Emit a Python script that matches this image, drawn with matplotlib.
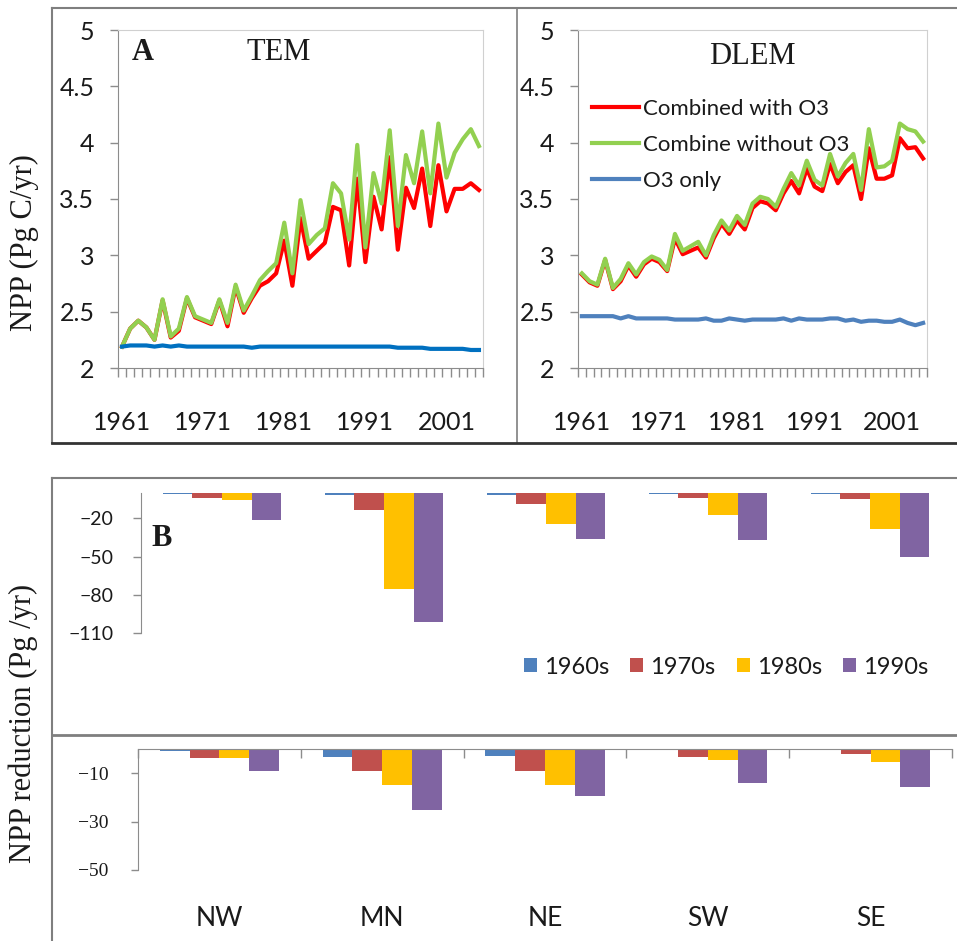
import numpy as np
import matplotlib
matplotlib.use('Agg')
import matplotlib.pyplot as plt
from matplotlib import font_manager
from matplotlib.lines import Line2D

# ---- data ----
years = list(range(1961, 2006))

tem_with_o3 = [2.19, 2.35, 2.42, 2.36, 2.25, 2.60, 2.27, 2.33, 2.62, 2.45,
               2.42, 2.39, 2.60, 2.37, 2.72, 2.49, 2.62, 2.73, 2.77, 2.84,
               3.13, 2.73, 3.33, 2.97, 3.04, 3.11, 3.43, 3.40, 2.91, 3.68,
               2.94, 3.52, 3.23, 3.87, 3.05, 3.60, 3.42, 3.77, 3.26, 3.80,
               3.39, 3.59, 3.59, 3.64, 3.58]
tem_without_o3 = [2.19, 2.35, 2.42, 2.36, 2.25, 2.61, 2.28, 2.35, 2.63, 2.46,
                  2.43, 2.40, 2.61, 2.40, 2.74, 2.51, 2.64, 2.78, 2.86, 2.93,
                  3.29, 2.84, 3.49, 3.10, 3.18, 3.24, 3.64, 3.55, 3.14, 3.98,
                  3.07, 3.73, 3.46, 4.11, 3.26, 3.89, 3.64, 4.10, 3.55, 4.17,
                  3.69, 3.91, 4.03, 4.12, 3.97]
tem_o3_only = [2.19, 2.20, 2.20, 2.20, 2.19, 2.20, 2.19, 2.20, 2.19, 2.19,
               2.19, 2.19, 2.19, 2.19, 2.19, 2.19, 2.18, 2.19, 2.19, 2.19,
               2.19, 2.19, 2.19, 2.19, 2.19, 2.19, 2.19, 2.19, 2.19, 2.19,
               2.19, 2.19, 2.19, 2.19, 2.18, 2.18, 2.18, 2.18, 2.17, 2.17,
               2.17, 2.17, 2.17, 2.16, 2.16]

dlem_with_o3 = [2.83, 2.76, 2.73, 2.96, 2.70, 2.77, 2.91, 2.81, 2.92, 2.97,
                2.94, 2.86, 3.15, 3.01, 3.04, 3.07, 2.98, 3.15, 3.28, 3.19,
                3.31, 3.23, 3.42, 3.48, 3.46, 3.40, 3.55, 3.66, 3.55, 3.77,
                3.61, 3.57, 3.81, 3.64, 3.74, 3.80, 3.50, 3.95, 3.68, 3.68,
                3.71, 4.04, 3.95, 3.96, 3.86]
dlem_without_o3 = [2.84, 2.77, 2.74, 2.97, 2.71, 2.79, 2.93, 2.83, 2.94, 2.99,
                   2.96, 2.87, 3.19, 3.04, 3.08, 3.12, 3.00, 3.18, 3.31, 3.22,
                   3.35, 3.27, 3.46, 3.52, 3.50, 3.43, 3.59, 3.73, 3.62, 3.84,
                   3.67, 3.62, 3.90, 3.70, 3.82, 3.90, 3.58, 4.12, 3.78, 3.79,
                   3.84, 4.17, 4.12, 4.10, 4.01]
dlem_o3_only = [2.46, 2.46, 2.46, 2.46, 2.46, 2.44, 2.46, 2.44, 2.44, 2.44,
                2.44, 2.44, 2.43, 2.43, 2.43, 2.43, 2.44, 2.42, 2.42, 2.44,
                2.43, 2.42, 2.43, 2.43, 2.43, 2.43, 2.44, 2.42, 2.44, 2.43,
                2.43, 2.43, 2.44, 2.44, 2.42, 2.43, 2.41, 2.42, 2.42, 2.41,
                2.41, 2.43, 2.40, 2.38, 2.40]

regions = ['NW', 'MN', 'NE', 'SW', 'SE']
decades = ['1960s', '1970s', '1980s', '1990s']

upper_1960s = [-0.4, -1.6, -1.6, -0.5, -0.5]
upper_1970s = [-3.7, -13.1, -8.6, -3.7, -5.1]
upper_1980s = [-5.2, -75.8, -24.6, -17.3, -28.1]
upper_1990s = [-20.9, -101.4, -36.1, -37.1, -50.2]

lower_1960s = [-1.0, -3.3, -2.9, 0.0, 0.0]
lower_1970s = [-3.7, -9.0, -9.0, -3.3, -1.9]
lower_1980s = [-3.7, -14.9, -14.9, -4.7, -5.5]
lower_1990s = [-9.0, -25.1, -19.6, -13.9, -15.7]

bar_colors = ['#4F81BD', '#C0504D', '#FFC000', '#8064A2']

# ---- fonts ----
installed = {f.name for f in font_manager.fontManager.ttflist}
narrow = 'Liberation Sans Narrow' if 'Liberation Sans Narrow' in installed else 'Lato'
serif = 'Liberation Serif'
plt.rcParams['font.family'] = narrow
plt.rcParams['text.color'] = '#1a1a1a'
plt.rcParams['xtick.color'] = '#1a1a1a'
plt.rcParams['ytick.color'] = '#1a1a1a'

axis_grey = '#8c8c8c'
border_grey = '#d0d0d0'
frame_grey = '#7f7f7f'

W, H = 957, 941
fig = plt.figure(figsize=(W / 100, H / 100), dpi=100)


def fx(px):
    return px / W


def fy(py):
    return 1 - py / H


def box(x0, y0, x1, y1):
    return [fx(x0), fy(y1), fx(x1) - fx(x0), fy(y0) - fy(y1)]


def style_line_axes(ax):
    ax.set_xlim(1960.5, 2005.5)
    ax.set_ylim(2, 5)
    ax.set_yticks([2, 2.5, 3, 3.5, 4, 4.5, 5])
    ax.set_yticklabels(['2', '2.5', '3', '3.5', '4', '4.5', '5'])
    ax.set_xticks([1961, 1971, 1981, 1991, 2001])
    ax.set_xticks(np.arange(1960.5, 2006, 1), minor=True)
    ax.tick_params(axis='x', which='major', length=0, pad=31, labelsize=18)
    ax.tick_params(axis='x', which='minor', length=6.5, width=1, color=axis_grey)
    ax.tick_params(axis='y', length=6, width=1, color=axis_grey, pad=11, labelsize=18)
    for s in ['left', 'bottom']:
        ax.spines[s].set_color(axis_grey)
    for s in ['top', 'right']:
        ax.spines[s].set_color(border_grey)


# ---- panel A ----
ax_tem = fig.add_axes(box(118, 30, 483, 368))
ax_tem.plot(years, tem_with_o3, color='#FF0000', lw=3, solid_joinstyle='round')
ax_tem.plot(years, tem_without_o3, color='#92D050', lw=3, solid_joinstyle='round')
ax_tem.plot(years, tem_o3_only, color='#0070C0', lw=3, solid_joinstyle='round')
style_line_axes(ax_tem)

ax_dlem = fig.add_axes(box(578, 30, 927, 368))
ax_dlem.plot(years, dlem_with_o3, color='#FF0000', lw=3, label='Combined with O3')
ax_dlem.plot(years, dlem_without_o3, color='#92D050', lw=3, label='Combine without O3')
ax_dlem.plot(years, dlem_o3_only, color='#4F81BD', lw=3, label='O3 only')
style_line_axes(ax_dlem)
ax_dlem.legend(loc='upper left', bbox_to_anchor=(fx(592), fy(99)),
               bbox_transform=fig.transFigure, frameon=False, fontsize=16,
               handlelength=2.1, handletextpad=0.2, labelspacing=0.72,
               borderpad=0, borderaxespad=0)

fig.text(fx(143), fy(53), 'A', family=serif, weight='bold', size=22, ha='center', va='center')
fig.text(fx(279), fy(53), 'TEM', family=serif, size=22, ha='center', va='center')
fig.text(fx(752), fy(56), 'DLEM', family=serif, size=22, ha='center', va='center')
fig.text(fx(24), fy(243), 'NPP (Pg C/yr)', family=serif, size=22, rotation=90,
         ha='center', va='center')

# ---- panel B ----
x = np.arange(len(regions))
w = 0.183

ax_bu = fig.add_axes(box(141, 493, 951, 633))
for k, vals in enumerate([upper_1960s, upper_1970s, upper_1980s, upper_1990s]):
    ax_bu.bar(x + (k - 1.5) * w, vals, w, color=bar_colors[k], label=decades[k])
ax_bu.set_xlim(-0.5, 4.5)
ax_bu.set_ylim(-110, 0)
ax_bu.set_yticks([-110, -80, -50, -20])
ax_bu.set_xticks([])
ax_bu.tick_params(axis='y', length=6, width=1, color=axis_grey, pad=14, labelsize=14)
for lab in ax_bu.get_yticklabels():
    lab.set_fontfamily('Lato')
for s in ['top', 'right', 'bottom']:
    ax_bu.spines[s].set_visible(False)
ax_bu.spines['left'].set_color(axis_grey)

handles, labels = ax_bu.get_legend_handles_labels()
fig.legend(handles, labels, loc='center', bbox_to_anchor=(fx(726), fy(667)),
           ncol=4, frameon=False, fontsize=17, handlelength=0.55, handleheight=0.55,
           handletextpad=0.3, columnspacing=0.9)

fig.text(fx(162), fy(538), 'B', family=serif, weight='bold', size=22, ha='center', va='center')

ax_bl = fig.add_axes(box(138, 749, 952, 870))
for k, vals in enumerate([lower_1960s, lower_1970s, lower_1980s, lower_1990s]):
    ax_bl.bar(x + (k - 1.5) * w, vals, w, color=bar_colors[k])
ax_bl.set_xlim(-0.5, 4.5)
ax_bl.set_ylim(-50, 0)
ax_bl.set_yticks([-50, -30, -10])
ax_bl.set_xticks(x)
ax_bl.set_xticklabels(regions)
ax_bl.set_xticks(np.arange(-0.5, 5, 1), minor=True)
ax_bl.tick_params(axis='x', which='major', length=0, pad=26, labelsize=19)
ax_bl.tick_params(axis='x', which='minor', bottom=False, top=True, direction='in',
                  length=6.5, width=1, color=axis_grey)
ax_bl.tick_params(axis='y', length=5, width=1, color=axis_grey, pad=16, labelsize=14)
for lab in ax_bl.get_yticklabels():
    lab.set_fontfamily(serif)
for s in ['right', 'bottom']:
    ax_bl.spines[s].set_visible(False)
ax_bl.spines['left'].set_color(axis_grey)
ax_bl.spines['top'].set_color(axis_grey)

fig.text(fx(23), fy(723), 'NPP reduction (Pg /yr)', family=serif, size=22, rotation=90,
         ha='center', va='center')

# ---- frames around the panels ----
frame = [((52, 8), (957, 8), frame_grey, 1.5),
         ((52, 8), (52, 443), frame_grey, 1.5),
         ((517, 8), (517, 443), frame_grey, 1.2),
         ((52, 443), (957, 443), '#333333', 2),
         ((52, 478), (957, 478), frame_grey, 1.5),
         ((52, 478), (52, 941), frame_grey, 1.5),
         ((52, 735), (957, 735), frame_grey, 2)]
for (x0, y0), (x1, y1), col, lw in frame:
    fig.add_artist(Line2D([fx(x0), fx(x1)], [fy(y0), fy(y1)], transform=fig.transFigure,
                          color=col, lw=lw))

fig.savefig('out.png', dpi=100)
